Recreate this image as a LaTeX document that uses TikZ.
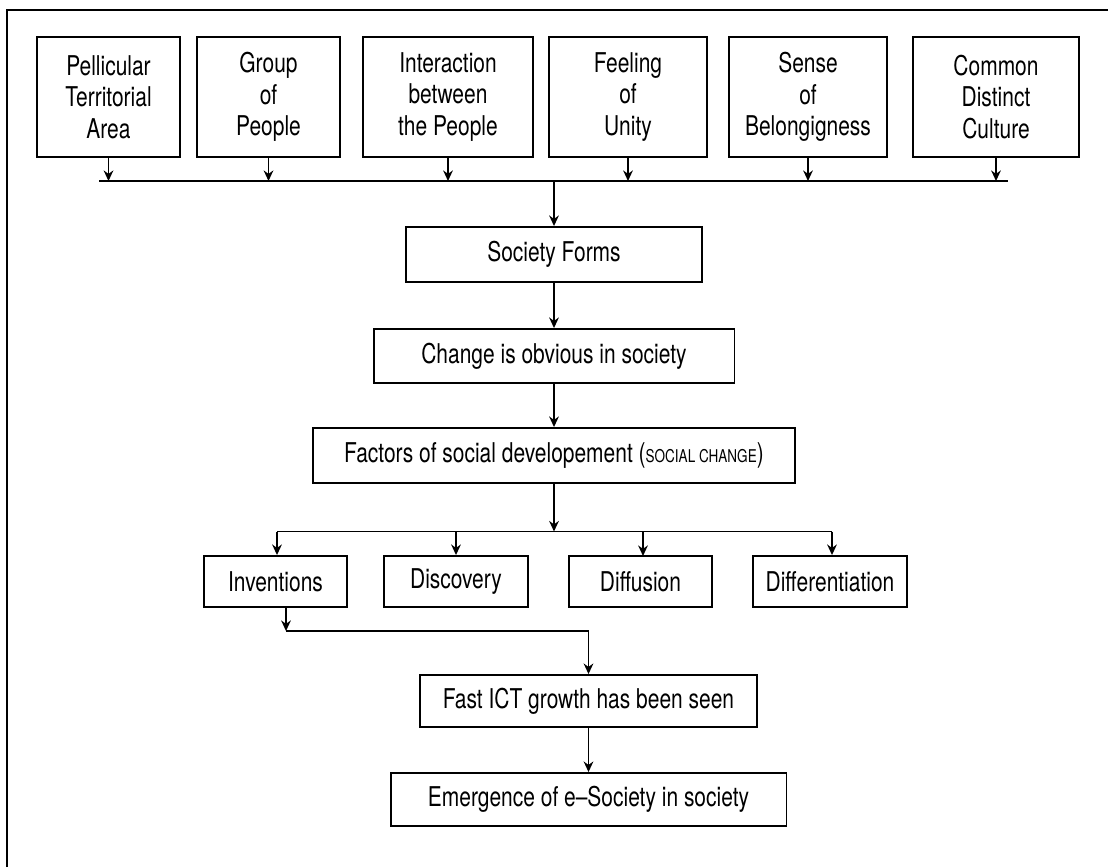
\documentclass[tikz,border=0pt]{standalone}
\usepackage{fontspec}
\setmainfont{TeX Gyre Heros}[FakeStretch=0.77]
\usetikzlibrary{arrows.meta}
\begin{document}
\begin{tikzpicture}[x=0.02cm, y=-0.02cm,
    box/.style={draw, line width=1.1pt, align=center, inner sep=2pt,
      font=\fontsize{15.5}{17.9}\selectfont},
    arr/.style={line width=1pt, -{Stealth[length=6pt, width=5.5pt]}}]
      \useasboundingbox (0, 0) rectangle (1108, 867);
      \draw[line width=1.2pt] (7, 867) -- (7, 10) -- (1108, 10);

      \node[box, minimum width=2.86cm, minimum height=2.4cm] (area) at (108.5, 97) {Pellicular\\Territorial\\Area};
      \node[box, minimum width=2.86cm, minimum height=2.4cm] (group) at (268.5, 97) {Group\\of\\People};
      \node[box, minimum width=3.4cm, minimum height=2.4cm] (interact) at (448, 97) {Interaction\\between\\the People};
      \node[box, minimum width=3.16cm, minimum height=2.4cm] (unity) at (628, 97) {Feeling\\of\\Unity};
      \node[box, minimum width=3.16cm, minimum height=2.4cm] (belong) at (808, 97) {Sense\\of\\Belongigness};
      \node[box, minimum width=3.32cm, minimum height=2.4cm] (culture) at (996, 97) {Common\\Distinct\\Culture};

      \node[box, minimum width=5.92cm, minimum height=1.1cm] (forms) at (554, 254.5) {Society Forms};
      \node[box, minimum width=7.22cm, minimum height=1.08cm] (change) at (554, 356) {Change is obvious in society};
      \node[box, minimum width=9.64cm, minimum height=1.1cm] (factors) at (554, 455.5)
        {Factors of social developement ({\fontsize{10}{10}\selectfont SOCIAL CHANGE})};

      \node[box, minimum width=2.86cm, minimum height=1.02cm] (invent) at (275.5, 581.5) {Inventions};
      \node[box, minimum width=2.88cm, minimum height=1.02cm] (discover) at (456, 581.5) {Discovery};
      \node[box, minimum width=2.86cm, minimum height=1.02cm] (diffuse) at (640.5, 581.5) {Diffusion};
      \node[box, minimum width=3.08cm, minimum height=1.02cm] (differ) at (830, 581.5) {Differentiation};

      \node[box, minimum width=6.74cm, minimum height=1.04cm] (ict) at (588.5, 701) {Fast ICT growth has been seen};
      \node[box, minimum width=7.92cm, minimum height=1.06cm] (esociety) at (588.5, 799.5) {Emergence of e--Society in society};

      % top bus
      \coordinate (busL) at (99, 181);
      \coordinate (busR) at (1008, 181);
      \draw[line width=1.1pt] (busL) -- (busR);
      \foreach \n in {area, group, interact, unity, belong, culture}
        \draw[arr] (\n) -- (\n |- busL);
      \draw[arr] (forms |- busL) -- (forms);

      \draw[arr] (forms) -- (change);
      \draw[arr] (change) -- (factors);

      % lower bus
      \coordinate (splitL) at (277, 531.5);
      \coordinate (splitR) at (832, 531.5);
      \draw[arr] (factors) -- (factors |- splitL);
      \draw[line width=1.1pt] (splitL) -- (splitR);
      \draw[arr] (splitL) -- (splitL |- invent.north);
      \draw[arr] (discover |- splitL) -- (discover);
      \draw[arr] (643, 531.5) -- (643, 556);
      \draw[arr] (splitR) -- (splitR |- differ.north);

      \coordinate (elbow) at (286, 631);
      \draw[arr] (invent.south -| elbow) -- (elbow);
      \draw[arr] (elbow) -| (ict);
      \draw[arr] (ict) -- (esociety);
    \end{tikzpicture}
\end{document}
